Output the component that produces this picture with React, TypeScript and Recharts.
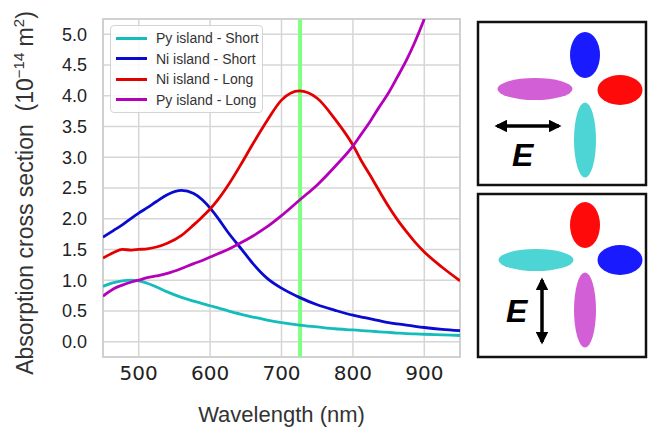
import React from "react";
import {
  LineChart,
  Line,
  XAxis,
  YAxis,
  CartesianGrid,
  Legend,
  ReferenceLine,
  ReferenceArea,
} from "recharts";

const WAVELENGTHS = [
  450, 465, 477, 490, 500, 512, 525, 540, 560, 577, 589, 601, 611, 625, 645,
  660, 680, 700, 725, 750, 775, 800, 812, 825, 837, 850, 862, 875, 887, 900,
  925, 950,
];

const PY_SHORT = [
  0.9, 0.96, 0.99, 1.0, 0.99, 0.95, 0.89, 0.81, 0.72, 0.66, 0.62, 0.58, 0.55,
  0.5, 0.44, 0.4, 0.35, 0.31, 0.27, 0.24, 0.21, 0.19, 0.18, 0.17, 0.16, 0.15,
  0.14, 0.13, 0.125, 0.12, 0.11, 0.1,
];
const NI_SHORT = [
  1.7, 1.81, 1.9, 2.01, 2.09, 2.18, 2.28, 2.39, 2.46, 2.41, 2.31, 2.16, 2.01,
  1.78, 1.49, 1.27, 1.03, 0.87, 0.72, 0.6, 0.51, 0.43, 0.4, 0.37, 0.34, 0.31,
  0.29, 0.27, 0.25, 0.23, 0.2, 0.18,
];
const NI_LONG = [
  1.36, 1.45, 1.5, 1.49, 1.5, 1.51, 1.54, 1.6, 1.73, 1.9, 2.03, 2.17, 2.31,
  2.54, 2.92, 3.22, 3.6, 3.93, 4.08, 3.96, 3.62, 3.2, 2.94, 2.69, 2.45, 2.2,
  1.99, 1.79, 1.62, 1.46, 1.21, 0.99,
];
const PY_LONG: (number | null)[] = [
  0.74, 0.86, 0.92, 0.97, 1.0, 1.04, 1.07, 1.11, 1.19, 1.27, 1.32, 1.38, 1.43,
  1.5, 1.62, 1.72, 1.87, 2.05, 2.3, 2.55, 2.85, 3.18, 3.38, 3.6, 3.82, 4.05,
  4.3, 4.58, 4.88, 5.25, null, null,
];

const X_TICKS = [500, 600, 700, 800, 900];
const Y_TICKS = [0, 0.5, 1, 1.5, 2, 2.5, 3, 3.5, 4, 4.5, 5];
const MARKER_WAVELENGTH = 726;

const SERIES = [
  { key: "pyShort", name: "Py island - Short", color: "#14bcbc" },
  { key: "niShort", name: "Ni island - Short", color: "#0a0ad0" },
  { key: "niLong", name: "Ni island - Long", color: "#e30000" },
  { key: "pyLong", name: "Py island - Long", color: "#b400b8" },
];

const data = WAVELENGTHS.map((wl, i) => ({
  wl,
  pyShort: PY_SHORT[i],
  niShort: NI_SHORT[i],
  niLong: NI_LONG[i],
  pyLong: PY_LONG[i],
}));

const LABEL_FONT = "'Liberation Sans', Arial, sans-serif";
const TICK_FONT = "'DejaVu Sans', sans-serif";

function LegendBox() {
  return (
    <div
      style={{
        width: 151,
        padding: "2px 0",
        border: "1px solid #d4d4d4",
        borderRadius: 4,
        background: "rgba(255,255,255,0.85)",
        fontFamily: LABEL_FONT,
        fontSize: 14,
        color: "#333",
      }}
    >
      {SERIES.map((s) => (
        <div
          key={s.key}
          style={{ display: "flex", alignItems: "center", height: 20.5 }}
        >
          <div
            style={{
              width: 31,
              height: 3,
              marginLeft: 5,
              marginRight: 9,
              background: s.color,
            }}
          />
          <span>{s.name}</span>
        </div>
      ))}
    </div>
  );
}

function YLabel() {
  return (
    <text
      x={193}
      y={33}
      transform="rotate(-90, 0, 0) translate(-386, 0)"
      textAnchor="middle"
      fontFamily={LABEL_FONT}
      fontSize={23}
      fill="#333"
    >
      Absorption cross section{"\u00a0\u00a0"}(10
      <tspan dy={-9} fontSize={15}>
        −14
      </tspan>
      <tspan dy={9}> m</tspan>
      <tspan dy={-9} fontSize={15}>
        2
      </tspan>
      <tspan dy={9}>)</tspan>
    </text>
  );
}

function Inset() {
  return (
    <svg
      width={184}
      height={430}
      style={{ position: "absolute", left: 470, top: 0 }}
    >
      <defs>
        <marker
          id="ah"
          viewBox="0 0 10 10"
          refX="8"
          refY="5"
          markerWidth="3.6"
          markerHeight="3.6"
          orient="auto-start-reverse"
        >
          <path d="M0,0 L10,5 L0,10 z" fill="#000" />
        </marker>
      </defs>
      {/* top panel */}
      <rect x={8} y={22} width={168} height={163} fill="#fff" stroke="#111" strokeWidth={2.5} />
      <ellipse cx={115} cy={55} rx={15} ry={23} fill="#1a1aff" />
      <ellipse cx={150} cy={90} rx={22.5} ry={15} fill="#ff0a0a" />
      <ellipse cx={65} cy={89} rx={37.5} ry={11} fill="#d35fd6" />
      <ellipse cx={115} cy={140} rx={11} ry={37.5} fill="#4dd4d4" />
      <line x1={27} y1={126} x2={89} y2={126} stroke="#000" strokeWidth={3.5} markerStart="url(#ah)" markerEnd="url(#ah)" />
      <text x={42} y={166} fontFamily={LABEL_FONT} fontWeight="bold" fontStyle="italic" fontSize={32} fill="#000">
        E
      </text>
      {/* bottom panel */}
      <rect x={8} y={194} width={168} height={163} fill="#fff" stroke="#111" strokeWidth={2.5} />
      <ellipse cx={115} cy={225} rx={15} ry={23} fill="#ff0a0a" />
      <ellipse cx={150} cy={260} rx={22.5} ry={15} fill="#1a1aff" />
      <ellipse cx={66} cy={260} rx={37.5} ry={11} fill="#4dd4d4" />
      <ellipse cx={115} cy={310} rx={11} ry={37.5} fill="#d35fd6" />
      <line x1={72} y1={280} x2={72} y2={342} stroke="#000" strokeWidth={3.5} markerStart="url(#ah)" markerEnd="url(#ah)" />
      <text x={36} y={322} fontFamily={LABEL_FONT} fontWeight="bold" fontStyle="italic" fontSize={32} fill="#000">
        E
      </text>
    </svg>
  );
}

export default function App() {
  return (
    <div
      style={{
        position: "absolute",
        left: 0,
        top: 0,
        width: 654,
        height: 430,
        background: "#fff",
      }}
    >
      <LineChart
        width={470}
        height={430}
        data={data}
        margin={{ top: 19, right: 10, bottom: 43, left: 0 }}
      >
        <CartesianGrid stroke="#d6d6d6" strokeWidth={1.5} />
        <ReferenceArea
          x1={450}
          x2={950}
          y1={-0.25}
          y2={5.25}
          fill="none"
          stroke="#d0d0d0"
          strokeWidth={2}
          fillOpacity={0}
        />
        <XAxis
          dataKey="wl"
          type="number"
          domain={[450, 950]}
          ticks={X_TICKS}
          allowDataOverflow
          axisLine={false}
          tickLine={false}
          tickSize={0}
          tickMargin={9}
          height={30}
          tick={{ fontSize: 20, fontFamily: TICK_FONT, fill: "#222" }}
          label={{
            value: "Wavelength (nm)",
            position: "insideBottom",
            offset: -35,
            fontSize: 22,
            fontFamily: LABEL_FONT,
            fill: "#333",
          }}
        />
        <YAxis
          type="number"
          domain={[-0.25, 5.25]}
          ticks={Y_TICKS}
          allowDataOverflow
          axisLine={false}
          tickLine={false}
          tickSize={0}
          tickMargin={16}
          width={103}
          tickFormatter={(v: number) => v.toFixed(1)}
          tick={{ fontSize: 18, fontFamily: LABEL_FONT, fill: "#222" }}
          label={{ content: () => <YLabel /> }}
        />
        <ReferenceLine
          x={MARKER_WAVELENGTH}
          stroke="#80ff80"
          strokeWidth={4}
        />
        {SERIES.map((s) => (
          <Line
            key={s.key}
            dataKey={s.key}
            name={s.name}
            type="monotone"
            stroke={s.color}
            strokeWidth={2.8}
            dot={false}
            isAnimationActive={false}
          />
        ))}
        <Legend
          layout="vertical"
          align="center"
          verticalAlign="middle"
          content={() => <LegendBox />}
          wrapperStyle={{ left: 110, top: 25, width: 153 }}
        />
      </LineChart>
      <Inset />
    </div>
  );
}
